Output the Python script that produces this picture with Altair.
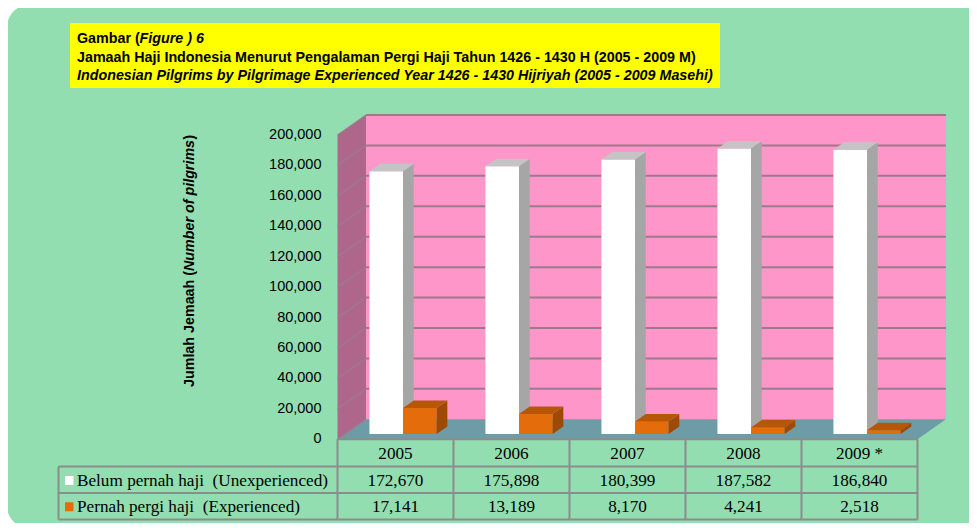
import altair as alt
import pandas as pd

# ---------------- data ----------------
years = ["2005", "2006", "2007", "2008", "2009 *"]
unexperienced = [172670, 175898, 180399, 187582, 186840]
experienced = [17141, 13189, 8170, 4241, 2518]
series_labels = ["Belum pernah haji \u00a0(Unexperienced)", "Pernah pergi haji \u00a0(Experienced)"]
y_ticks = [0, 20000, 40000, 60000, 80000, 100000, 120000, 140000, 160000, 180000, 200000]
y_max = 200000
title_line1a = "Gambar ("
title_line1b = "Figure ) 6"
title_line2 = "Jamaah Haji Indonesia Menurut Pengalaman Pergi Haji Tahun 1426 - 1430 H (2005 - 2009 M)"
title_line3 = "Indonesian Pilgrims by Pilgrimage Experienced Year 1426 - 1430 Hijriyah (2005 - 2009 Masehi)"
ytitle_a = "Jumlah Jemaah ("
ytitle_b = "Number of pilgrims"
ytitle_c = ")"

# ---------------- geometry / style ----------------
W, H = 961, 515
K = 304.3 / y_max          # px per value unit
Y0 = 431.3                 # plot px of value 0 on front plane
U0 = 329.5                 # plot px of first category edge (front)
UW = 116.0                 # px per category slot
DXU = 28.5 / UW            # depth offset in x units
DYV = 20.0 / K             # depth offset in value units
F1 = 0.265                 # bar front depth fraction
FB = 0.375                 # bar depth fraction
BW = 33.6 / UW             # bar width in x units
NC = len(years)
LABEL_LEFT = (50.5 - U0) / UW

GREEN = "#93DEB0"
PINK = "#FF96C9"
WALL = "#AE678A"
FLOOR = "#6E9CA6"
GRID = "#9C7A8C"
TABLE_LINE = "#8C8C8C"
SANS = "Liberation Sans Narrow, Arial Narrow, Liberation Sans, sans-serif"
SERIF = "Liberation Serif, Times New Roman, serif"

xs = alt.Scale(domain=[(0 - U0) / UW, (W - U0) / UW], nice=False, zero=False)
ys = alt.Scale(domain=[(Y0 - H) / K, Y0 / K], nice=False, zero=False)

one = pd.DataFrame({"a": [0]})

def X(f):
    return alt.X(f, type="quantitative", scale=xs, axis=None)

def Y(f):
    return alt.Y(f, type="quantitative", scale=ys, axis=None)

layers = []

# panel background
layers.append(alt.Chart(one).mark_rect(fill=GREEN, cornerRadius=22).encode(
    x=alt.value(-1), x2=alt.value(1010), y=alt.value(-3), y2=alt.value(520)))

# title box
layers.append(alt.Chart(one).mark_rect(fill="#FFFF00").encode(
    x=alt.value(62), x2=alt.value(712), y=alt.value(15), y2=alt.value(80)))
tstyle = dict(font=SANS, fontSize=14.3, fontWeight="bold", align="left", baseline="middle", color="black")
layers.append(alt.Chart(pd.DataFrame({"t": [title_line1a]})).mark_text(**tstyle).encode(
    text="t:N", x=alt.value(69), y=alt.value(31)))
layers.append(alt.Chart(pd.DataFrame({"t": [title_line1b]})).mark_text(fontStyle="italic", **tstyle).encode(
    text="t:N", x=alt.value(131.5), y=alt.value(31)))
layers.append(alt.Chart(pd.DataFrame({"t": [title_line2]})).mark_text(**tstyle).encode(
    text="t:N", x=alt.value(69), y=alt.value(49.5)))
layers.append(alt.Chart(pd.DataFrame({"t": [title_line3]})).mark_text(fontStyle="italic", **tstyle).encode(
    text="t:N", x=alt.value(69), y=alt.value(68)))

# y axis title (rotated)
ystyle = dict(font=SANS, fontSize=14.3, fontWeight="bold", align="left", baseline="middle", angle=270, color="black")
layers.append(alt.Chart(pd.DataFrame({"t": [ytitle_a]})).mark_text(**ystyle).encode(
    text="t:N", x=alt.value(182), y=alt.value(379)))
layers.append(alt.Chart(pd.DataFrame({"t": [ytitle_b]})).mark_text(fontStyle="italic", **ystyle).encode(
    text="t:N", x=alt.value(182), y=alt.value(263)))
layers.append(alt.Chart(pd.DataFrame({"t": [ytitle_c]})).mark_text(**ystyle).encode(
    text="t:N", x=alt.value(182), y=alt.value(131.5)))

# back wall
bw = pd.DataFrame({"u1": [DXU], "u2": [NC + DXU], "v1": [DYV], "v2": [y_max + DYV]})
layers.append(alt.Chart(bw).mark_rect(fill=PINK).encode(x=X("u1"), x2="u2", y=Y("v1"), y2="v2"))

# left side wall (parallelogram)
lw = pd.DataFrame({"u": [0, DXU], "vt": [y_max, y_max + DYV], "vb": [0, DYV]})
layers.append(alt.Chart(lw).mark_area(fill=WALL, orient="vertical").encode(
    x=X("u"), y=alt.Y("vt:Q", scale=ys, axis=None, stack=None), y2="vb"))

# floor (parallelogram)
fl = pd.DataFrame({"v": [0, DYV], "ua": [0, DXU], "ub": [NC, NC + DXU]})
layers.append(alt.Chart(fl).mark_area(fill=FLOOR, orient="horizontal").encode(
    y=Y("v"), x=alt.X("ua:Q", scale=xs, axis=None, stack=None), x2="ub"))

# gridlines: back wall and side wall
gb = pd.DataFrame({"v": [t + DYV for t in y_ticks[1:]], "u1": DXU, "u2": NC + DXU})
layers.append(alt.Chart(gb).mark_rule(color=GRID, strokeWidth=2).encode(
    x=X("u1"), x2="u2", y=Y("v"), y2="v"))
gs = pd.DataFrame({"v1": y_ticks, "v2": [t + DYV for t in y_ticks], "u1": 0.0, "u2": DXU})
layers.append(alt.Chart(gs).mark_rule(color=GRID, strokeWidth=1.5, opacity=0.8).encode(
    x=X("u1"), x2="u2", y=Y("v1"), y2="v2"))

# 3D bars
series = [
    (unexperienced, "#FFFFFF", "#A6A6A6", "#C4C4C4"),
    (experienced, "#E46C0A", "#9E4A05", "#B65708"),
]
for s, (vals, cf, cs, ct) in enumerate(series):
    front, top, side = [], [], []
    for i, val in enumerate(vals):
        uL = i + 0.5 + F1 * DXU - BW + s * BW
        uR = uL + BW
        vb = F1 * DYV
        vt = val + vb
        front.append({"uL": uL, "uR": uR, "vb": vb, "vt": vt})
        top.append({"id": i, "v": vt, "ua": uL, "ub": uR})
        top.append({"id": i, "v": vt + FB * DYV, "ua": uL + FB * DXU, "ub": uR + FB * DXU})
        side.append({"id": i, "u": uR, "vt": vt, "vb": vb})
        side.append({"id": i, "u": uR + FB * DXU, "vt": vt + FB * DYV, "vb": vb + FB * DYV})
    layers.append(alt.Chart(pd.DataFrame(front)).mark_rect(fill=cf).encode(
        x=X("uL"), x2="uR", y=Y("vb"), y2="vt"))
    layers.append(alt.Chart(pd.DataFrame(side)).mark_area(fill=cs, orient="vertical").encode(
        x=X("u"), y=alt.Y("vt:Q", scale=ys, axis=None, stack=None), y2="vb", detail="id:N"))
    layers.append(alt.Chart(pd.DataFrame(top)).mark_area(fill=ct, orient="horizontal").encode(
        y=Y("v"), x=alt.X("ua:Q", scale=xs, axis=None, stack=None), x2="ub", detail="id:N"))

# y tick labels
yl = pd.DataFrame({"v": y_ticks, "t": [f"{t:,}" for t in y_ticks]})
layers.append(alt.Chart(yl).mark_text(font=SANS, fontSize=14.5, align="right", baseline="middle", color="black").encode(
    x=alt.value(313.5), y=Y("v"), text="t:N"))

# data table lines
hl = pd.DataFrame({"u1": [0, LABEL_LEFT, LABEL_LEFT, LABEL_LEFT], "u2": [NC] * 4,
                   "py": [431.3, 458.5, 485.0, 511.5]})
layers.append(alt.Chart(hl).mark_rule(color=TABLE_LINE, strokeWidth=2).encode(
    x=X("u1"), x2="u2", y=alt.Y("py:Q", scale=None), y2="py"))
vl = pd.DataFrame({"u": [LABEL_LEFT] + list(range(NC + 1)),
                   "py1": [458.5] + [431.3] * (NC + 1), "py2": [511.5] * (NC + 2)})
layers.append(alt.Chart(vl).mark_rule(color=TABLE_LINE, strokeWidth=2).encode(
    x=X("u"), y=alt.Y("py1:Q", scale=None), y2="py2"))

# table texts
cells = []
for i, yr in enumerate(years):
    cells.append({"u": i + 0.5, "py": 445.5, "t": yr})
    cells.append({"u": i + 0.5, "py": 472.5, "t": f"{unexperienced[i]:,}"})
    cells.append({"u": i + 0.5, "py": 499.0, "t": f"{experienced[i]:,}"})
layers.append(alt.Chart(pd.DataFrame(cells)).mark_text(font=SERIF, fontSize=17.2, align="center", baseline="middle", color="black").encode(
    x=X("u"), y=alt.Y("py:Q", scale=None), text="t:N"))
lab = pd.DataFrame({"t": series_labels, "py": [472.5, 499.0]})
layers.append(alt.Chart(lab).mark_text(font=SERIF, fontSize=17.2, align="left", baseline="middle", color="black").encode(
    x=alt.value(69), y=alt.Y("py:Q", scale=None), text="t:N"))
sq = pd.DataFrame({"py1": [468.0, 494.3], "py2": [477.0, 503.3], "c": ["w", "o"]})
layers.append(alt.Chart(sq).mark_rect().encode(
    x=alt.value(57), x2=alt.value(65.5), y=alt.Y("py1:Q", scale=None), y2="py2",
    color=alt.Color("c:N", scale=alt.Scale(domain=["w", "o"], range=["#FFFFFF", "#E46C0A"]), legend=None)))

chart = alt.layer(*layers).properties(
    width=W, height=H, padding=0, autosize=alt.AutoSizeParams(type="none"), background="white"
).configure_view(stroke=None)

chart.save("out.html", embed_options={"renderer": "svg", "actions": False})
